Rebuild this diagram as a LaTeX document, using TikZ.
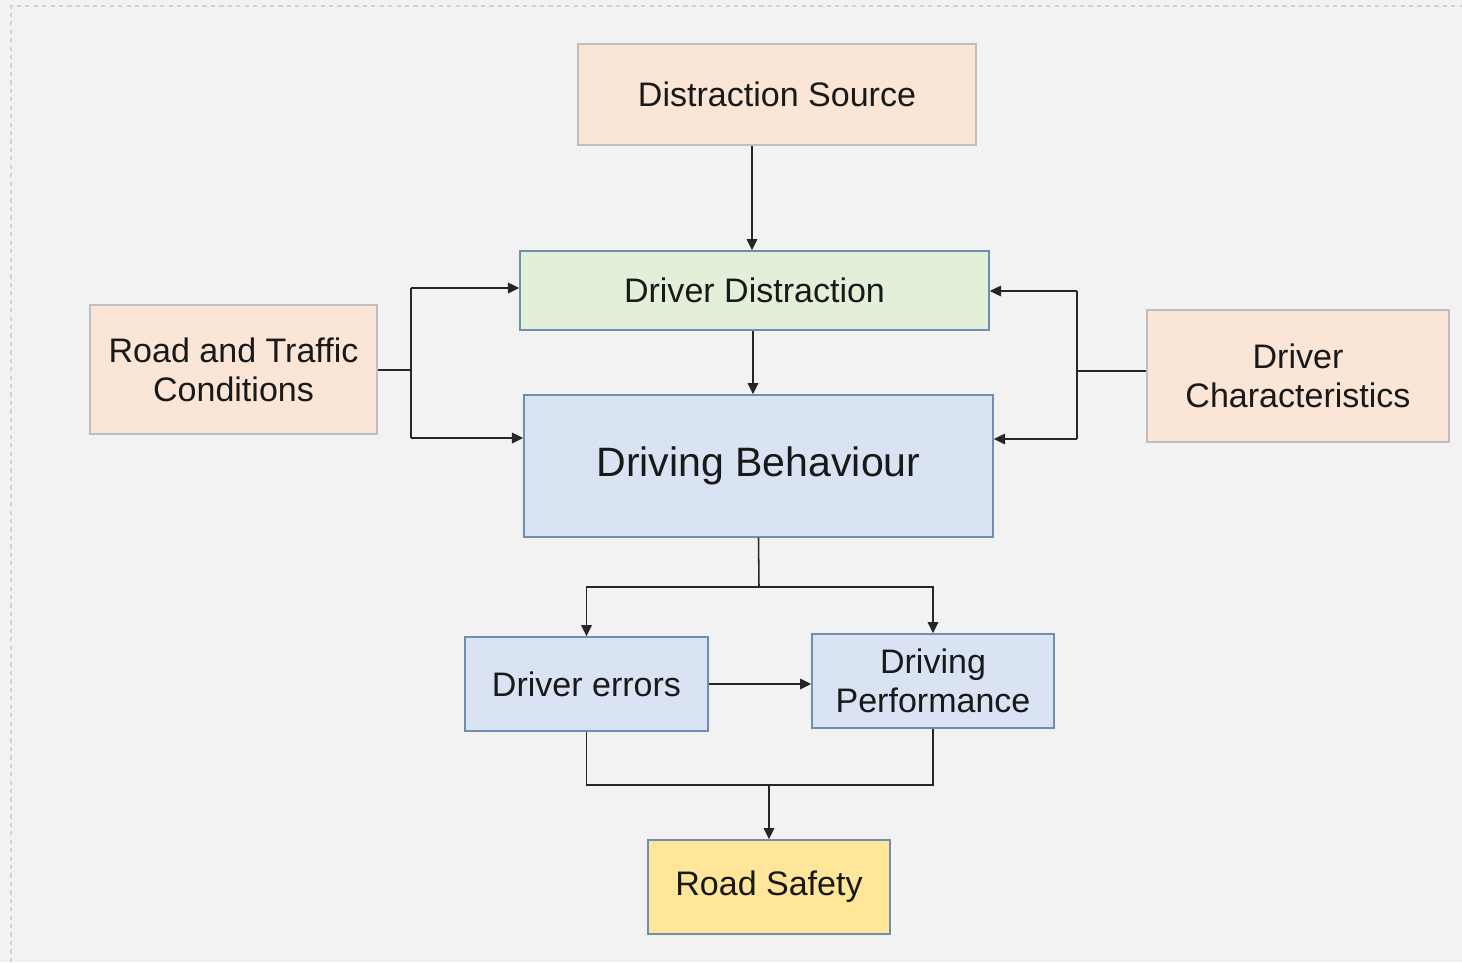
\documentclass[tikz,border=0pt]{standalone}
\usepackage{fontspec}
\setmainfont{Liberation Sans}
\usepackage{xcolor}
\usetikzlibrary{positioning, calc, arrows.meta}

\definecolor{bgcol}{HTML}{F2F2F2}
\definecolor{peach}{HTML}{FBE5D6}
\definecolor{peachline}{HTML}{BFBFBF}
\definecolor{greenfill}{HTML}{E2F0D9}
\definecolor{bluefill}{HTML}{DAE3F3}
\definecolor{yellowfill}{HTML}{FFE699}
\definecolor{blueline}{HTML}{6F8FB0}
\definecolor{linecol}{HTML}{262626}

\tikzset{
  box/.style={draw, line width=1pt, align=center, inner sep=0pt,
    font=\fontsize{24.2}{27.7}\selectfont, text=black!90},
  srcbox/.style={box, fill=peach, draw=peachline},
  drvbox/.style={box, fill=bluefill, draw=blueline},
  conn/.style={draw=linecol, line width=1.1pt},
  arr/.style={conn, -{Triangle[length=8pt, width=7.5pt]}}
}

\begin{document}
\begin{tikzpicture}[x=0.025cm, y=-0.025cm]
				  \fill[bgcol] (0,0) rectangle (1462,962);
				  \useasboundingbox (0,0) rectangle (1462,962);
				  \draw[color=black!18, dashed, line width=0.8pt] (11,962) -- (11,6) -- (1462,6);
				  \node[srcbox, minimum width=9.95cm, minimum height=2.525cm] (ds) at (777,94.5) {Distraction Source};
				  \node[box, fill=greenfill, draw=blueline, minimum width=11.725cm, minimum height=1.975cm] (dd) at (754.5,290.5) {Driver Distraction};
				  \node[srcbox, minimum width=7.175cm, minimum height=3.225cm] (rt) at (233.5,369.5) {Road and Traffic\\Conditions};
				  \node[srcbox, minimum width=7.55cm, minimum height=3.3cm] (dc) at (1298,376) {Driver\\Characteristics};
				  \node[drvbox, minimum width=11.725cm, minimum height=3.55cm, font=\fontsize{29.2}{34}\selectfont] (db) at (758.5,466) {\raisebox{-3pt}{Driving Behaviour}};
				  \node[drvbox, minimum width=6.075cm, minimum height=2.35cm] (de) at (586.5,684) {Driver errors};
				  \node[drvbox, minimum width=6.05cm, minimum height=2.35cm] (dp) at (933,681) {Driving\\Performance};
				  \node[box, fill=yellowfill, draw=blueline, minimum width=6.05cm, minimum height=2.35cm] (rs) at (769,887) {Road Safety};
				  \draw[arr] (ds.south -| 752,0) -- (dd.north -| 752,0);
				  \draw[arr] (dd.south -| 753,0) -- (db.north -| 753,0);
				  \coordinate (rtj) at (411,370);
				  \coordinate (rtt) at (411,288);
				  \coordinate (rtb) at (411,438);
				  \draw[conn] (rt.east |- rtj) -- (rtj);
				  \draw[conn] (rtt) -- (rtb);
				  \draw[arr] (rtt) -- (rtt -| dd.west);
				  \draw[arr] (rtb) -- (rtb -| db.west);
				  \coordinate (dcj) at (1077,371);
				  \coordinate (dct) at (1077,291);
				  \coordinate (dcb) at (1077,439);
				  \draw[conn] (dc.west |- dcj) -- (dcj);
				  \draw[conn] (dct) -- (dcb);
				  \draw[arr] (dct) -- (dct -| dd.east);
				  \draw[arr] (dcb) -- (dcb -| db.east);
				  \coordinate (split) at (759,587);
				  \draw[conn] (db.south) -- (split);
				  \draw[arr] (split) -| (de.north);
				  \draw[arr] (split) -| (dp.north);
				  \draw[arr] (de.east) -- (de.east -| dp.west);
				  \coordinate (merge) at (769,785);
				  \draw[conn] (de.south) |- (merge) -| (dp.south);
				  \draw[arr] (merge) -- (rs.north);
				\end{tikzpicture}
\end{document}
